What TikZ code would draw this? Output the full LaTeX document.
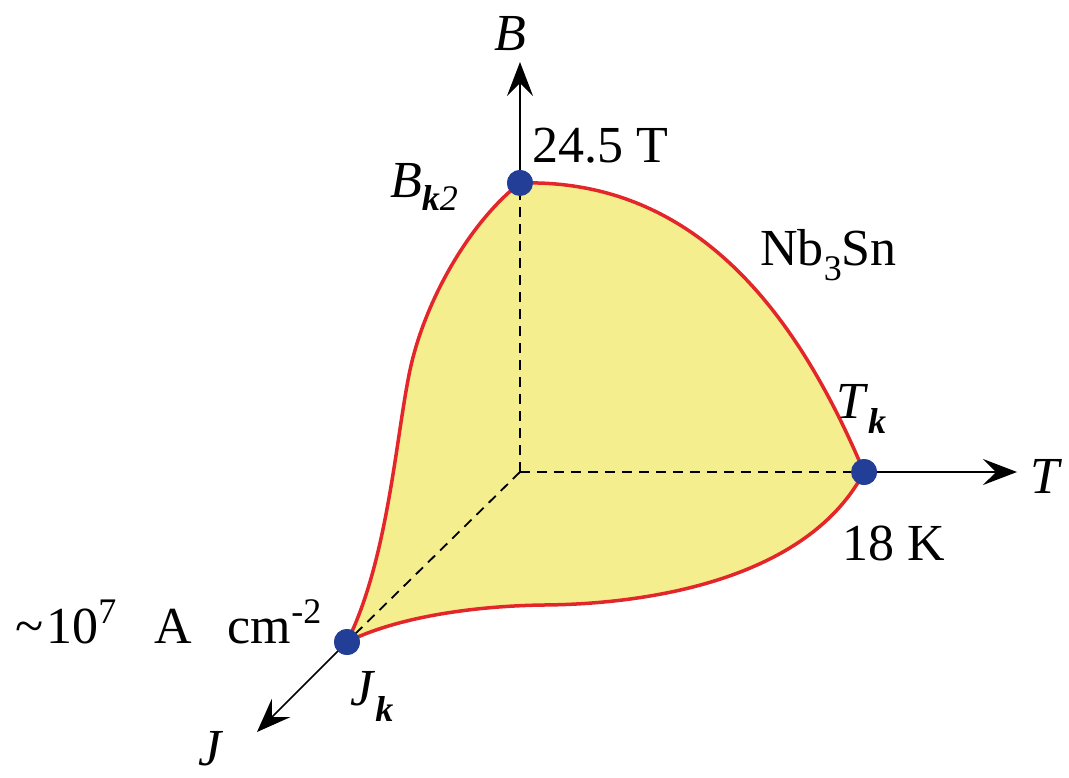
\documentclass[tikz,border=0pt]{standalone}
\usepackage{fontspec}
\setmainfont{Liberation Serif}
\usetikzlibrary{arrows.meta}
\definecolor{fillyel}{HTML}{F4EE8E}
\definecolor{curvered}{HTML}{E3262A}
\definecolor{dotblue}{HTML}{223E96}
\newcommand{\subsz}{\fontsize{36}{40}\selectfont}
\begin{document}
\begin{tikzpicture}[x=1pt,y=-1pt,
  axis/.style={line width=1.6pt,-{Stealth[length=34pt,width=26pt,inset=13pt]}},
  dashedge/.style={line width=1.8pt,dash pattern=on 10pt off 7pt},
  pt/.style={circle,fill=dotblue,inner sep=0pt,minimum size=26pt},
  lab/.style={inner sep=0pt,anchor=base west,font=\fontsize{52}{58}\selectfont}]
\useasboundingbox (0,0) rectangle (1069,777);
\coordinate (O) at (520,472);
\node[pt] (Bp) at (520,183) {};
\node[pt] (Tp) at (864,472) {};
\node[pt] (Jp) at (347,642) {};
\coordinate (Bend) at (520,62);
\coordinate (Tend) at (1017,472);
\coordinate (Jend) at (257,732);
\def\region{(Bp.center) .. controls (700,178) and (800,320) .. (Tp.center)
  .. controls (810,575) and (660,604) .. (544,605)
  .. controls (470,606) and (395,618) .. (Jp.center)
  .. controls (388,560) and (396,436) .. (410,370)
  .. controls (425,300) and (470,222) .. (Bp.center)}
% region
\path[fill=fillyel] \region;
% dashed edges
\draw[dashedge] (O) -- (Bp.center);
\draw[dashedge] (O) -- (Tp.center);
\draw[dashedge] (O) -- (Jp.center);
% boundary
\draw[curvered,line width=3.5pt,line join=round] \region;
% axes
\draw[axis] (Bp.center) -- (Bend);
\draw[axis] (Tp.center) -- (Tend);
\draw[axis] (Jp.center) -- (Jend);
\node[pt] at (Bp) {};
\node[pt] at (Tp) {};
\node[pt] at (Jp) {};
% labels
\node[lab] (lB) at (494,50) {\textit{B}};
\node[lab] (l245) at (532,162) {24.5 T};
\node[lab] (lBk) at (390,197) {\textit{B}\raisebox{-13pt}{\subsz\textbf{\textit{k}}\textit{2}}};
\node[lab] (lNb) at (760,265) {Nb\raisebox{-15pt}{\subsz 3}Sn};
\node[lab] (lTk) at (836,418) {\textit{T}\raisebox{-15pt}{\subsz\textbf{\textit{k}}}};
\node[lab] (lT) at (1030,493) {\textit{T}};
\node[lab] (l18) at (842,560) {18 K};
\node[lab] (lJc) at (15,643) {\textasciitilde\hspace{3pt}10\raisebox{20pt}{\subsz 7}\hspace{38pt}A\hspace{36pt}cm\raisebox{20pt}{\subsz -2}};
\node[lab] (lJk) at (350,705) {\textit{J}\raisebox{-16pt}{\subsz\textbf{\textit{k}}}};
\node[lab] (lJ) at (198,765) {\textit{J}};
\end{tikzpicture}
\end{document}
